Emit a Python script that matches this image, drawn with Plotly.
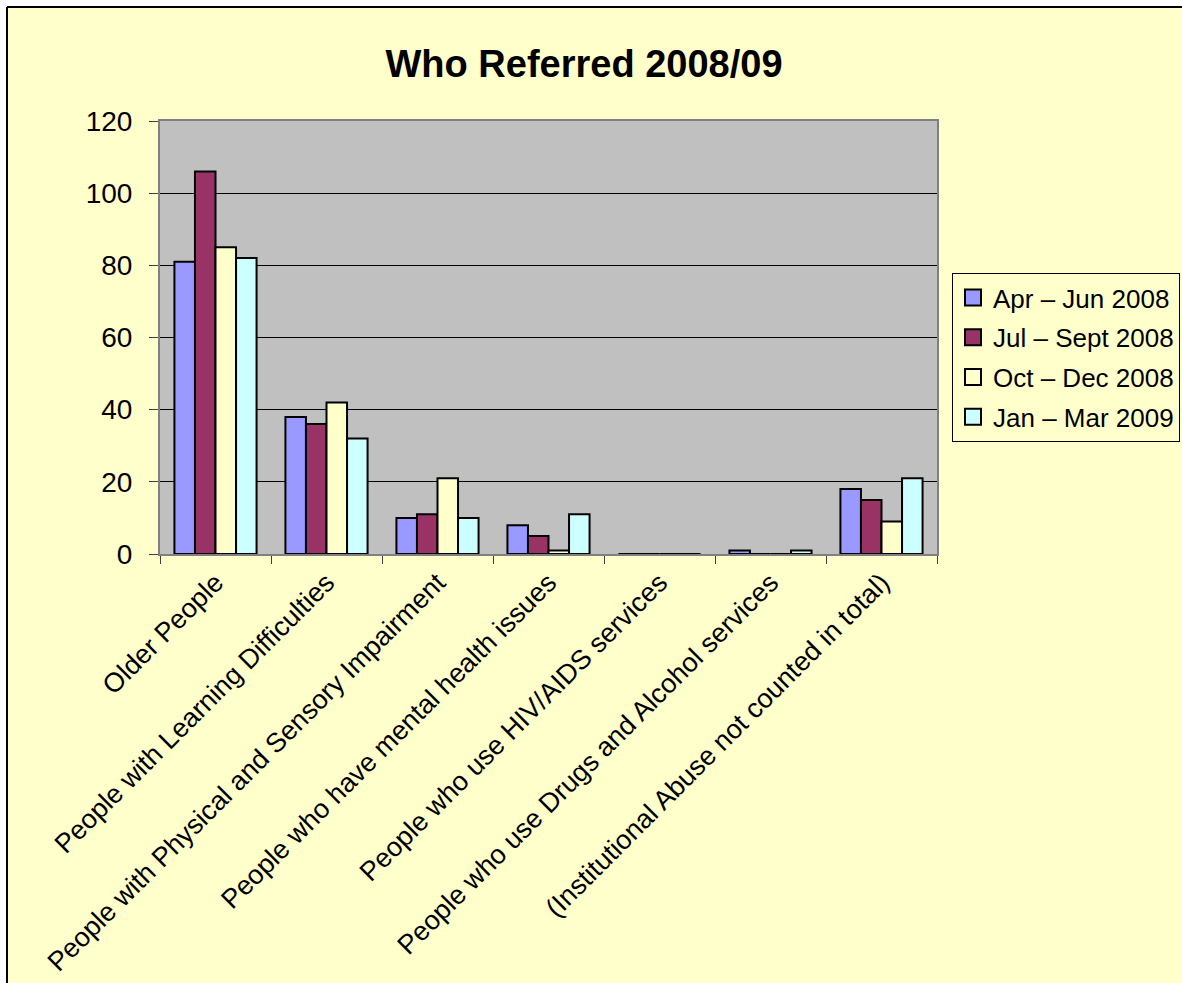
import plotly.graph_objects as go

categories = [
    "Older People",
    "People with Learning Difficulties",
    "People with Physical and Sensory Impairment",
    "People who have mental health issues",
    "People who use HIV/AIDS services",
    "People who use Drugs and Alcohol services",
    "(Institutional Abuse not counted in total)",
]
series_names = ["Apr – Jun 2008", "Jul – Sept 2008", "Oct – Dec 2008", "Jan – Mar 2009"]
apr_jun = [81, 38, 10, 8, 0, 1, 18]
jul_sep = [106, 36, 11, 5, 0, 0, 15]
oct_dec = [85, 42, 21, 1, 0, 0, 9]
jan_mar = [82, 32, 10, 11, 0, 1, 21]
series_values = [apr_jun, jul_sep, oct_dec, jan_mar]
colors = ["#9999FF", "#993366", "#FFFFCC", "#CCFFFF"]
y_ticks = [0, 20, 40, 60, 80, 100, 120]

W, H = 1182, 983
L, R, T, B = 160, 245, 121, 429
PW, PH = W - L - R, H - T - B

def px(x):
    return (x - L) / PW

def py(y):
    return (H - B - y) / PH

FONT = "Liberation Sans, Arial, sans-serif"

fig = go.Figure()
for name, vals, c in zip(series_names, series_values, colors):
    fig.add_trace(go.Bar(
        x=categories, y=vals, name=name, showlegend=False,
        marker=dict(color=c, line=dict(color="black", width=2)),
    ))
# legend entries with larger square swatches
for i, (name, c) in enumerate(zip(series_names, colors)):
    fig.add_trace(go.Scatter(
        x=[categories[0]], y=[None], name=name, mode="markers", legendgroup=f"g{i}",
        marker=dict(symbol="square", size=16, color=c, line=dict(color="black", width=2)),
        hoverinfo="skip",
    ))

shapes = [
    dict(type="rect", xref="paper", yref="paper", x0=px(0), x1=px(7), y0=py(0), y1=py(H),
         fillcolor="white", line=dict(width=0), layer="above"),
    dict(type="rect", xref="paper", yref="paper", x0=px(0), x1=px(W), y0=py(7), y1=py(0),
         fillcolor="white", line=dict(width=0), layer="above"),
    dict(type="line", xref="paper", yref="paper", x0=px(7), x1=px(7), y0=py(7), y1=py(H),
         line=dict(color="black", width=2)),
    dict(type="line", xref="paper", yref="paper", x0=px(7), x1=px(W), y0=py(7), y1=py(7),
         line=dict(color="black", width=2)),
]

fig.update_layout(
    width=W, height=H,
    margin=dict(l=L, r=R, t=T, b=B, autoexpand=False),
    paper_bgcolor="#FFFFCC",
    plot_bgcolor="#C0C0C0",
    font=dict(family=FONT, color="black"),
    title=dict(text="<b>Who Referred 2008/09</b>", x=584 / W, xref="container", xanchor="center",
               y=1 - 64 / H, yref="container", yanchor="middle",
               font=dict(size=38, family=FONT, color="black")),
    barmode="group", bargap=0.26, bargroupgap=0,
    showlegend=True,
    legend=dict(x=px(952), y=py(273), xanchor="left", yanchor="top",
                bgcolor="#FFFFCC", bordercolor="black", borderwidth=1,
                font=dict(size=26, family=FONT, color="black"),
                traceorder="grouped", tracegroupgap=3, itemwidth=30),
    shapes=shapes,
)
fig.update_xaxes(
    type="category", tickson="boundaries", ticks="outside", ticklen=8, tickcolor="#404040", tickwidth=1,
    tickangle=-45, tickfont=dict(size=27, family=FONT, color="black"),
    showline=True, linecolor="#808080", linewidth=2, mirror=True, showgrid=False,
)
fig.update_yaxes(
    range=[0, 120], tickvals=y_ticks, ticks="outside", ticklen=9, tickcolor="#404040", tickwidth=1,
    tickfont=dict(size=28, family=FONT, color="black"), ticklabelstandoff=11,
    showline=True, linecolor="#808080", linewidth=2, mirror=True,
    showgrid=True, gridcolor="black", gridwidth=1, zeroline=False,
)

fig.write_html("out.html")
